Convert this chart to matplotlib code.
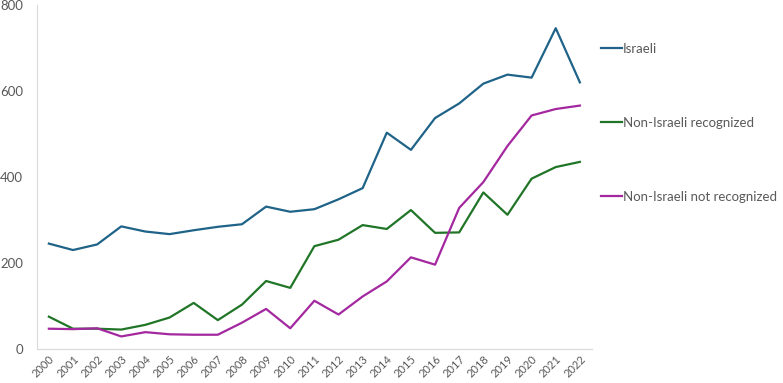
import matplotlib
matplotlib.use("Agg")
import matplotlib.pyplot as plt
import numpy as np

# data
years = list(range(2000, 2023))
israeli = [245, 230, 243, 285, 273, 267, 276, 284, 290, 331, 319, 325,
           348, 374, 503, 463, 537, 571, 617, 638, 631, 746, 620]
non_isr_recog = [75, 47, 47, 45, 56, 73, 107, 67, 103, 158, 142, 239,
                 254, 288, 279, 323, 270, 271, 364, 312, 396, 423, 435]
non_isr_not = [47, 46, 48, 29, 39, 34, 33, 33, 61, 93, 48, 112,
               80, 122, 157, 213, 196, 328, 388, 472, 543, 558, 566]
labels = ["Israeli", "Non-Israeli recognized", "Non-Israeli not recognized"]
colors = ["#1f6388", "#207527", "#a3289f"]

plt.rcParams['font.family'] = ['Lato', 'DejaVu Sans']

fig = plt.figure(figsize=(7.83, 3.83), dpi=100)
ax = fig.add_axes([0.047, 0.089, 0.709, 0.898])

x = np.arange(len(years))
for series, lab, c in zip([israeli, non_isr_recog, non_isr_not], labels, colors):
    ax.plot(x, series, color=c, lw=1.6, label=lab)

ax.set_xlim(-0.5, len(years) - 0.5)
ax.set_ylim(0, 800)
ax.set_yticks([0, 200, 400, 600, 800])
ax.set_xticks(x)
ax.set_xticklabels([str(y) for y in years], rotation=45, ha='right',
                   rotation_mode='anchor', fontsize=8, color='#595959')
ax.tick_params(axis='y', labelsize=9.5, labelcolor='#595959', length=0, pad=10)
ax.tick_params(axis='x', length=0, pad=3)

for s in ['top', 'right']:
    ax.spines[s].set_visible(False)
ax.spines['left'].set_color('#d9d9d9')
ax.spines['bottom'].set_color('#d9d9d9')

leg = fig.legend(loc='upper left', bbox_to_anchor=(0.752, 0.92), frameon=False,
                 handlelength=1.6, handletextpad=0.1, labelspacing=4.7,
                 fontsize=9.5, labelcolor='#595959')

fig.savefig("out.png", dpi=100)
